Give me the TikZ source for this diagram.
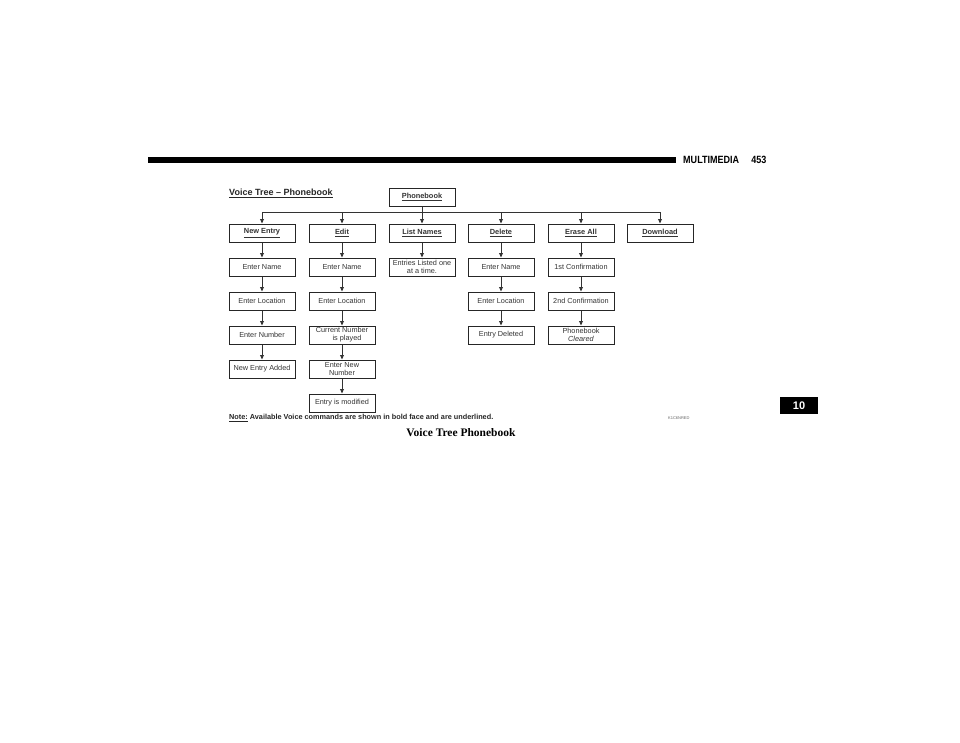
\documentclass[tikz,border=0pt]{standalone}
\usepackage{fontspec}
\setmainfont{Liberation Sans}
\newfontfamily\capfont{Liberation Serif}
\usetikzlibrary{arrows.meta}
\tikzset{
  vbox/.style={draw=black!85, line width=1pt, fill=white, minimum width=66pt, minimum height=18pt, inner sep=1pt, align=center, font=\fontsize{7.3}{7.9}\selectfont, text=black!80},
  cmd/.style={vbox, font=\fontsize{7.4}{8}\selectfont\bfseries},
  conn/.style={draw=black!80, line width=0.9pt},
  arr/.style={conn, -{Triangle[length=4.5pt,width=3.8pt]}}
}
\newcommand{\ul}[1]{\underline{#1}}
\begin{document}
\begin{tikzpicture}[x=1pt,y=-1pt]
\useasboundingbox[fill=white] (0,0) rectangle (960,742);
% header
\fill[black] (148,157) rectangle (676,163);
\node[anchor=west, font=\fontsize{10.5}{10.5}\selectfont\bfseries, inner sep=0pt] (hdr) at (683,160) {\scalebox{0.86}[1]{MULTIMEDIA\hspace{14pt}453}};
% title
\node[anchor=west, font=\fontsize{9}{9}\selectfont\bfseries, inner sep=0pt, text=black!85] (title) at (229,193) {\ul{Voice Tree -- Phonebook}};
% root
\node[cmd] (pb) at (422,197) {\ul{Phonebook}};
% level 1
\node[cmd] (ne) at (262,233) {\ul{New Entry}};
\node[cmd] (ed) at (342,233) {\ul{Edit}};
\node[cmd] (ln) at (422,233) {\ul{List Names}};
\node[cmd] (de) at (501,233) {\ul{Delete}};
\node[cmd] (ea) at (581,233) {\ul{Erase All}};
\node[cmd] (dl) at (660,233) {\ul{Download}};
% column 1
\node[vbox] (ne1) at (262,267) {Enter Name};
\node[vbox] (ne2) at (262,301) {Enter Location};
\node[vbox] (ne3) at (262,335) {Enter Number};
\node[vbox] (ne4) at (262,369) {New Entry Added};
% column 2
\node[vbox] (ed1) at (342,267) {Enter Name};
\node[vbox] (ed2) at (342,301) {Enter Location};
\node[vbox] (ed3) at (342,335) {Current Number\\ \hspace*{10pt}is played};
\node[vbox] (ed4) at (342,369) {Enter New\\ Number};
\node[vbox] (ed5) at (342,403) {Entry is modified};
% column 3
\node[vbox] (ln1) at (422,267) {Entries Listed one\\ at a time.};
% column 4
\node[vbox] (de1) at (501,267) {Enter Name};
\node[vbox] (de2) at (501,301) {Enter Location};
\node[vbox] (de3) at (501,335) {Entry Deleted};
% column 5
\node[vbox] (ea1) at (581,267) {1st Confirmation};
\node[vbox] (ea2) at (581,301) {2nd Confirmation};
\node[vbox] (ea3) at (581,335) {Phonebook\\ \textit{Cleared}};
% tree connectors
\coordinate (bus) at (422,212);
\draw[conn] (pb.south) -- (bus);
\draw[conn] (ne.north |- bus) -- (dl.north |- bus);
\foreach \n in {ne,ed,ln,de,ea,dl} \draw[arr] (\n.north |- bus) -- (\n.north);
% column arrows
\draw[arr] (ne) -- (ne1); \draw[arr] (ne1) -- (ne2); \draw[arr] (ne2) -- (ne3); \draw[arr] (ne3) -- (ne4);
\draw[arr] (ed) -- (ed1); \draw[arr] (ed1) -- (ed2); \draw[arr] (ed2) -- (ed3); \draw[arr] (ed3) -- (ed4); \draw[arr] (ed4) -- (ed5);
\draw[arr] (ln) -- (ln1);
\draw[arr] (de) -- (de1); \draw[arr] (de1) -- (de2); \draw[arr] (de2) -- (de3);
\draw[arr] (ea) -- (ea1); \draw[arr] (ea1) -- (ea2); \draw[arr] (ea2) -- (ea3);
% note
\node[anchor=west, font=\fontsize{7.3}{7.5}\selectfont\bfseries, inner sep=0pt, text=black!85] (note) at (229,418) {\ul{Note:} Available Voice commands are shown in bold face and are underlined.};
\node[anchor=west, font=\fontsize{4}{4}\selectfont, inner sep=0pt, text=black!60] (code) at (668,418) {K1C6NRED};
% caption
\node[font=\capfont\fontsize{11.5}{11.5}\selectfont\bfseries, inner sep=0pt] (cap) at (461,433) {Voice Tree Phonebook};
% chapter tab
\node[fill=black, text=white, font=\fontsize{11}{11}\selectfont\bfseries, minimum width=38pt, minimum height=17pt, inner sep=0pt] (tab) at (799,405.5) {10};
\end{tikzpicture}
\end{document}
